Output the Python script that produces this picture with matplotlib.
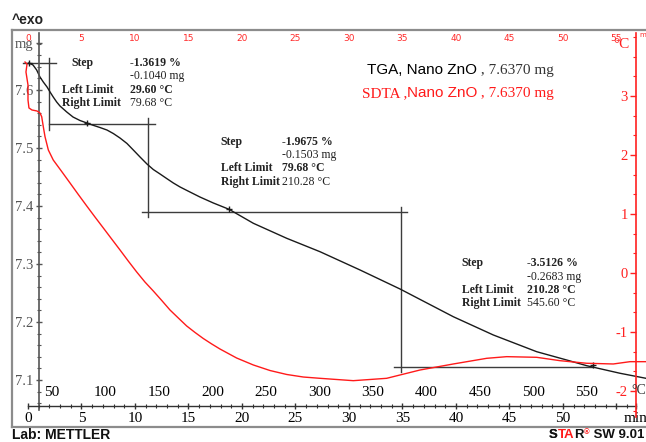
import numpy as np
import matplotlib
matplotlib.use("Agg")
import matplotlib.pyplot as plt
from matplotlib.ticker import FixedLocator, FixedFormatter

# ---------------- data ----------------
tga_time = [0.09, 0.47, 0.81, 1.12, 1.43, 1.78, 2.06, 2.36, 2.68, 2.99, 3.62,
            4.21, 4.86, 5.51, 6.10, 6.73, 7.38, 7.97, 8.60, 9.25, 9.84, 10.47,
            11.12, 11.71, 12.34, 12.96, 13.58, 14.21, 14.86, 16.07, 17.32,
            18.79, 21.06, 24.18, 27.29, 31.03, 34.77, 39.75, 43.49, 47.54,
            50.34, 52.21, 55.33, 57.76]
tga_mass = [7.6466, 7.6431, 7.6345, 7.6224, 7.6138, 7.6052, 7.5966, 7.5879,
            7.5793, 7.5724, 7.5621, 7.5534, 7.5474, 7.5431, 7.5391, 7.5353,
            7.5310, 7.5250, 7.5172, 7.5078, 7.4966, 7.4845, 7.4724, 7.4629,
            7.4552, 7.4474, 7.4397, 7.4328, 7.4267, 7.4155, 7.4052, 7.3943,
            7.3702, 7.3443, 7.3212, 7.2897, 7.2569, 7.2091, 7.1776, 7.1488,
            7.1345, 7.1247, 7.1116, 7.1029]

sdta_time = [-0.28, -0.09, -0.19, 0.00, 0.00, 0.09, 0.37, 0.84, 1.12, 1.28,
             1.43, 1.59, 1.90, 2.36, 3.15, 3.93, 4.70, 5.49, 6.26, 7.04, 7.82,
             8.60, 9.37, 10.16, 10.93, 11.71, 12.50, 13.27, 14.05, 14.83,
             15.61, 16.38, 17.17, 17.94, 19.50, 21.06, 22.62, 24.18, 25.73,
             27.29, 30.40, 33.52, 36.64, 39.75, 42.87, 44.74, 47.54, 49.72,
             52.21, 54.70, 56.26, 57.76]
sdta_signal = [3.576, 3.542, 3.407, 3.186, 2.932, 2.797, 2.763, 2.746, 2.712,
               2.649, 2.480, 2.310, 2.085, 1.915, 1.720, 1.525, 1.331, 1.136,
               0.949, 0.763, 0.576, 0.390, 0.203, 0.017, -0.153, -0.305,
               -0.466, -0.627, -0.763, -0.898, -1.008, -1.110, -1.203, -1.288,
               -1.441, -1.559, -1.653, -1.720, -1.763, -1.785, -1.825, -1.785,
               -1.644, -1.542, -1.446, -1.418, -1.429, -1.486, -1.530, -1.542,
               -1.503, -1.503]

# step evaluation construction lines (time in min, mass in mg)
step_seg_time = [[-0.44, 2.60], [1.96, 1.96], [1.96, 11.87], [11.21, 11.21],
                 [10.65, 35.42], [34.86, 34.86], [34.20, 52.80]]
step_seg_mass = [[7.6466, 7.6466], [7.655, 7.531], [7.5414, 7.5414],
                 [7.5517, 7.381], [7.3897, 7.3897], [7.3983, 7.1138],
                 [7.1224, 7.1224]]
marker_time = [0.12, 5.50, 18.80, 52.80]
marker_mass = [7.6466, 7.5431, 7.3948, 7.1259]

step_row_labels = ["Step", "", "Left Limit", "Right Limit"]
step_values = [
    ["-1.3619 %", "-0.1040 mg", "29.60 °C", "79.68 °C"],
    ["-1.9675 %", "-0.1503 mg", "79.68 °C", "210.28 °C"],
    ["-3.5126 %", "-0.2683 mg", "210.28 °C", "545.60 °C"],
]

mass_ticks = [7.1, 7.2, 7.3, 7.4, 7.5, 7.6, 7.681]
mass_tick_labels = ["7.1", "7.2", "7.3", "7.4", "7.5", "7.6", "mg"]
time_ticks = [0, 5, 10, 15, 20, 25, 30, 35, 40, 45, 50, 55, 56.8]
time_tick_labels = ["0", "5", "10", "15", "20", "25", "30", "35", "40", "45",
                    "50", "", "min"]
top_time_ticks = [0, 5, 10, 15, 20, 25, 30, 35, 40, 45, 50, 55]
temp_ticks = [50, 100, 150, 200, 250, 300, 350, 400, 450, 500, 550]
sdta_ticks = [-2, -1, 0, 1, 2, 3]
sdta_tick_labels = ["-2", "-1", "0", "1", "2", "3"]
temp_start = 27.6      # °C at t = 0
heating_rate = 10.0    # K/min

# ---------------- figure ----------------
W, H = 646, 442
fig = plt.figure(figsize=(W / 100, H / 100), dpi=100)
SERIF = "Liberation Serif"
SANS = "Liberation Sans"
RED = "#ff1a1a"


def fpx(x, y):
    return x / W, 1 - y / H


rect = [12 / W, (H - 427) / H, 634 / W, 397 / H]

# outer frame
fr = fig.add_axes(rect)
fr.set_xticks([]); fr.set_yticks([])
for s in ["left", "top", "bottom"]:
    fr.spines[s].set_color("#8c8c8c"); fr.spines[s].set_linewidth(1.6)
fr.spines["right"].set_visible(False)

# main (mass) axes
ax = fig.add_axes(rect, facecolor="none")
ax.set_xlim(-1.495, 57.757)
ax.set_ylim(7.01897, 7.70345)
ax.spines["top"].set_visible(False)
ax.spines["right"].set_visible(False)
ax.spines["left"].set_position(("data", 1.05))
ax.spines["left"].set_bounds(7.048, 7.698)
ax.spines["left"].set_color("#555555")
ax.spines["left"].set_linewidth(1.2)
ax.spines["bottom"].set_position(("data", 7.0552))
ax.spines["bottom"].set_bounds(0, 56.8)
ax.spines["bottom"].set_color("#333333")
ax.spines["bottom"].set_linewidth(1.0)

ax.yaxis.set_major_locator(FixedLocator(mass_ticks))
ax.yaxis.set_major_formatter(FixedFormatter(mass_tick_labels))
ax.yaxis.set_minor_locator(FixedLocator(np.arange(7.06, 7.695, 0.02)))
ax.tick_params(axis="y", which="major", direction="inout", length=5, width=1,
               color="#555555", labelcolor="#555555", pad=2, labelsize=10.5)
ax.tick_params(axis="y", which="minor", direction="inout", length=3, width=0.8,
               color="#555555")
ax.xaxis.set_major_locator(FixedLocator(time_ticks))
ax.xaxis.set_major_formatter(FixedFormatter(time_tick_labels))
ax.xaxis.set_minor_locator(FixedLocator(np.arange(0, 57, 1)))
ax.tick_params(axis="x", which="major", direction="inout", length=5, width=1,
               color="#333333", labelcolor="black", pad=2, labelsize=11)
ax.tick_params(axis="x", which="minor", direction="inout", length=3, width=0.8,
               color="#333333")
for lab in ax.get_xticklabels() + ax.get_yticklabels():
    lab.set_fontfamily(SERIF)


# temperature scale drawn inside the plot above the time axis
def t2T(t):
    return temp_start + heating_rate * np.asarray(t)


def T2t(T):
    return (np.asarray(T) - temp_start) / heating_rate


secT = ax.secondary_xaxis(0.0529, functions=(t2T, T2t))
secT.set_alignment("top")
secT.xaxis.set_major_locator(FixedLocator(temp_ticks))
secT.tick_params(axis="x", length=0, pad=5, labelsize=11, labelcolor="black")
for s in secT.spines.values():
    s.set_visible(False)
for lab in secT.get_xticklabels():
    lab.set_fontfamily(SERIF)

# red time labels along the top
secTop = ax.secondary_xaxis("top")
secTop.xaxis.set_major_locator(FixedLocator(top_time_ticks))
secTop.tick_params(axis="x", length=0, pad=-9.5, labelsize=6.5,
                   labelcolor="#ff2a2a")
for s in secTop.spines.values():
    s.set_visible(False)

# curves
for ts, ms in zip(step_seg_time, step_seg_mass):
    ax.plot(ts, ms, color="#3c3c3c", lw=1.0)
ax.plot(tga_time, tga_mass, color="#1a1a1a", lw=1.0)
ax.plot(marker_time, marker_mass, ls="none", marker="+", ms=4, mew=1,
        color="#1a1a1a")

# SDTA (°C) axis
ax2 = ax.twinx()
ax2.set_ylim(-2.6102, 4.1186)
for s in ["top", "bottom", "right"]:
    ax2.spines[s].set_visible(False)
ax2.spines["left"].set_visible(True)
ax2.spines["left"].set_position(("axes", 0.9842))
ax2.spines["left"].set_bounds(-2.44, 4.07)
ax2.spines["left"].set_color("#ff2020")
ax2.spines["left"].set_linewidth(1.2)
ax2.yaxis.set_ticks_position("left")
ax2.yaxis.set_label_position("left")
ax2.yaxis.set_major_locator(FixedLocator(sdta_ticks))
ax2.yaxis.set_major_formatter(FixedFormatter(sdta_tick_labels))
ax2.yaxis.set_minor_locator(FixedLocator(np.arange(-7, 13) / 3.0 - 1e-9))
ax2.tick_params(axis="y", which="major", direction="out", length=4, width=1,
                color="#ff2020", labelcolor="#ff2020", pad=2, labelsize=10.5)
ax2.tick_params(axis="y", which="minor", direction="out", length=2.5,
                width=0.8, color="#ff2020")
for lab in ax2.get_yticklabels():
    lab.set_fontfamily(SERIF)
ax2.plot(sdta_time, sdta_signal, color=RED, lw=1.0)

# step annotation blocks
block_left = [61.7, 220.7, 461.7]
block_step_x = [71.7, 220.7, 461.7]
block_val_x = [130.0, 281.7, 526.7]
block_rows = [[63, 76, 90, 103], [141.7, 155, 168.3, 181.7],
              [262.7, 276.7, 290, 303.3]]
for b in range(3):
    for r in range(4):
        y = block_rows[b][r]
        if step_row_labels[r]:
            x0 = block_step_x[b] if r == 0 else block_left[b]
            fig.text(*fpx(x0, y), step_row_labels[r], ha="left", va="center",
                     fontsize=8.5, family=SERIF, weight="bold", color="#222222")
        fig.text(*fpx(block_val_x[b], y), step_values[b][r], ha="left",
                 va="center", fontsize=8.5, family=SERIF,
                 weight="bold" if r in (0, 2) else "normal", color="#222222")


def chain(pieces, x, y, size=11, weight="normal"):
    last = None
    for txt, fam, col in pieces:
        if last is None:
            last = fig.text(*fpx(x, y), txt, ha="left", va="center",
                            fontsize=size, family=fam, color=col, weight=weight)
        else:
            last = ax.annotate(txt, xy=(1, 0), xycoords=last, ha="left",
                               va="bottom", fontsize=size, family=fam,
                               color=col, weight=weight, annotation_clip=False)
    return last


chain([("TGA, Nano ZnO", SANS, "black"), (" , 7.6370 mg", SERIF, "#333333")],
      366.7, 70)
chain([("SDTA ,", SERIF, RED), ("Nano ZnO", SANS, RED),
       (" , 7.6370 mg", SERIF, RED)], 361.7, 93.3)

# unit labels
fig.text(*fpx(621, 44), "°C", ha="center", va="center", fontsize=11,
         family=SERIF, color="#ff2020")
fig.text(*fpx(631, 390), "°C", ha="left", va="center", fontsize=10,
         family=SERIF, color="#333333")
fig.text(*fpx(639, 35), "min", ha="left", va="center", fontsize=5,
         color="#ff2a2a")

# header / footer
fig.text(*fpx(12, 20), "^exo", ha="left", va="center", fontsize=10,
         family=SANS, weight="bold", color="#222222")
fig.text(*fpx(12, 435), "Lab: METTLER", ha="left", va="center", fontsize=10,
         family=SANS, weight="bold", color="#111111")
s2 = chain([("STA", SANS, "#111111")], 549, 435, size=9.5, weight="bold")
# recolour "TA" by overlaying red text on a matching black "S"
s_only = fig.text(*fpx(549, 435), "S", ha="left", va="center", fontsize=9.5,
                  family=SANS, weight="bold", color="#111111")
s2.set_text("S")
ta = ax.annotate("TA", xy=(1, 0), xycoords=s_only, ha="left", va="bottom",
                 fontsize=9.5, family=SANS, weight="bold", color=RED,
                 annotation_clip=False)
r_ = ax.annotate("R", xy=(1, 0), xycoords=ta, ha="left", va="bottom",
                 fontsize=9.5, family=SANS, weight="bold", color="#111111",
                 annotation_clip=False)
s3 = ax.annotate("®", xy=(1, 0.4), xycoords=r_, ha="left", va="bottom",
                 fontsize=5.5, family=SANS, weight="bold", color=RED,
                 annotation_clip=False)
ax.annotate(" SW 9.01", xy=(1, 0), xycoords=(s3, r_), ha="left", va="bottom",
            fontsize=9.5, family=SANS, weight="bold", color="#111111",
            annotation_clip=False)

fig.savefig("out.png", dpi=100)
